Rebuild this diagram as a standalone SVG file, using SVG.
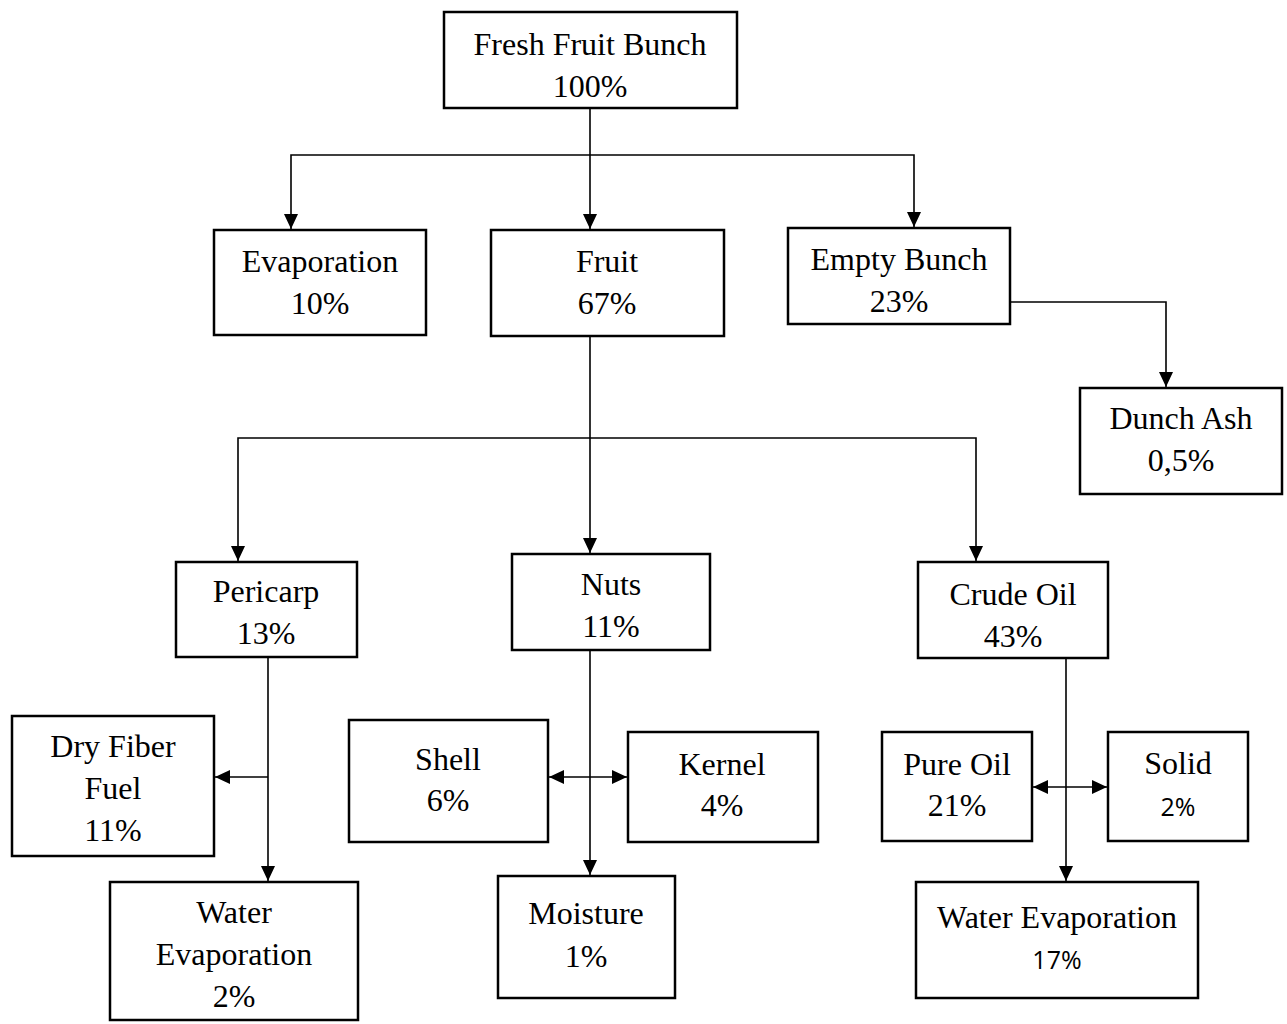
<svg xmlns="http://www.w3.org/2000/svg" width="1287" height="1024" viewBox="0 0 1287 1024">
<style>
.box{fill:#fff;stroke:#000;stroke-width:2.5}
.t{font-family:"Liberation Serif","Times New Roman",serif;font-size:32px;fill:#000;text-anchor:middle}
.s{font-family:"Open Sans","Liberation Sans",sans-serif;font-size:25px;fill:#000;text-anchor:middle}
.c{fill:none;stroke:#000;stroke-width:1.6}
</style>
<defs>
<marker id="ah" markerUnits="userSpaceOnUse" markerWidth="16" markerHeight="14" refX="15" refY="7" orient="auto-start-reverse">
<path d="M0,0 L15,7 L0,14 Z" fill="#000"/>
</marker>
</defs>
<rect width="1287" height="1024" fill="#fff"/>
<g id="connectors">
<path class="c" d="M590,108 V155"/>
<path class="c" d="M590,155 H291 V229" marker-end="url(#ah)"/>
<path class="c" d="M590,155 V229" marker-end="url(#ah)"/>
<path class="c" d="M590,155 H914 V227" marker-end="url(#ah)"/>
<path class="c" d="M1010,302 H1166 V387" marker-end="url(#ah)"/>
<path class="c" d="M590,336 V553" marker-end="url(#ah)"/>
<path class="c" d="M590,438 H238 V561" marker-end="url(#ah)"/>
<path class="c" d="M590,438 H976 V561" marker-end="url(#ah)"/>
<path class="c" d="M268,657 V881" marker-end="url(#ah)"/>
<path class="c" d="M268,777 H215" marker-end="url(#ah)"/>
<path class="c" d="M590,650 V875" marker-end="url(#ah)"/>
<path class="c" d="M549,777 H627" marker-start="url(#ah)" marker-end="url(#ah)"/>
<path class="c" d="M1066,658 V881" marker-end="url(#ah)"/>
<path class="c" d="M1033,787 H1107" marker-start="url(#ah)" marker-end="url(#ah)"/>
</g>
<g id="ffb"><rect class="box" x="444" y="12" width="293" height="96"/><text class="t" x="590" y="55">Fresh Fruit Bunch</text><text class="t" x="590" y="97">100%</text></g>
<g id="evaporation"><rect class="box" x="214" y="230" width="212" height="105"/><text class="t" x="320" y="272">Evaporation</text><text class="t" x="320" y="314">10%</text></g>
<g id="fruit"><rect class="box" x="491" y="230" width="233" height="106"/><text class="t" x="607" y="272">Fruit</text><text class="t" x="607" y="314">67%</text></g>
<g id="empty-bunch"><rect class="box" x="788" y="228" width="222" height="96"/><text class="t" x="899" y="270">Empty Bunch</text><text class="t" x="899" y="312">23%</text></g>
<g id="dunch-ash"><rect class="box" x="1080" y="388" width="202" height="106"/><text class="t" x="1181" y="429">Dunch Ash</text><text class="t" x="1181" y="471">0,5%</text></g>
<g id="pericarp"><rect class="box" x="176" y="562" width="181" height="95"/><text class="t" x="266" y="602">Pericarp</text><text class="t" x="266" y="644">13%</text></g>
<g id="nuts"><rect class="box" x="512" y="554" width="198" height="96"/><text class="t" x="611" y="595">Nuts</text><text class="t" x="611" y="637">11%</text></g>
<g id="crude-oil"><rect class="box" x="918" y="562" width="190" height="96"/><text class="t" x="1013" y="605">Crude Oil</text><text class="t" x="1013" y="647">43%</text></g>
<g id="dry-fiber"><rect class="box" x="12" y="716" width="202" height="140"/><text class="t" x="113" y="757">Dry Fiber</text><text class="t" x="113" y="799">Fuel</text><text class="t" x="113" y="841">11%</text></g>
<g id="water-evap-left"><rect class="box" x="110" y="882" width="248" height="138"/><text class="t" x="234" y="923">Water</text><text class="t" x="234" y="965">Evaporation</text><text class="t" x="234" y="1007">2%</text></g>
<g id="shell"><rect class="box" x="349" y="720" width="199" height="122"/><text class="t" x="448" y="770">Shell</text><text class="t" x="448" y="811">6%</text></g>
<g id="kernel"><rect class="box" x="628" y="732" width="190" height="110"/><text class="t" x="722" y="775">Kernel</text><text class="t" x="722" y="816">4%</text></g>
<g id="moisture"><rect class="box" x="498" y="876" width="177" height="122"/><text class="t" x="586" y="924">Moisture</text><text class="t" x="586" y="967">1%</text></g>
<g id="pure-oil"><rect class="box" x="882" y="732" width="150" height="109"/><text class="t" x="957" y="775">Pure Oil</text><text class="t" x="957" y="816">21%</text></g>
<g id="solid"><rect class="box" x="1108" y="732" width="140" height="109"/><text class="t" x="1178" y="774">Solid</text><text class="s" x="1178" y="816">2%</text></g>
<g id="water-evap-right"><rect class="box" x="916" y="882" width="282" height="116"/><text class="t" x="1057" y="928">Water Evaporation</text><text class="s" x="1057" y="969">17%</text></g>
</svg>
